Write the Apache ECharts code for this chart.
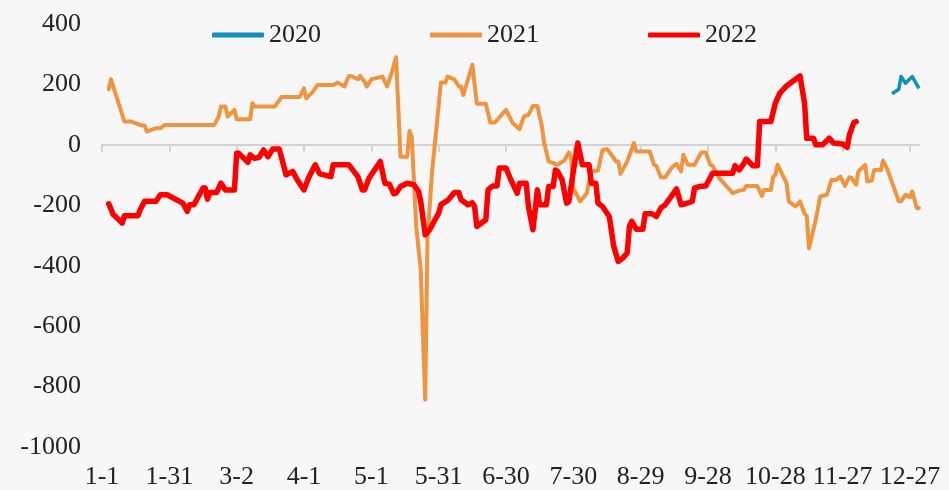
<!DOCTYPE html>
<html>
<head>
<meta charset="utf-8">
<script src="https://cdn.jsdelivr.net/npm/echarts@6/dist/echarts.min.js"></script>
<style>
  html, body { margin: 0; padding: 0; background: #f7f7f7; }
  #main { width: 949px; height: 490px; }
</style>
</head>
<body>
<div id="main"></div>
<script>
// day-of-year labels for a non-leap year, 1-1 .. 12-31
var monthDays = [31, 28, 31, 30, 31, 30, 31, 31, 30, 31, 30, 31];
var days = [];
monthDays.forEach(function (n, m) {
  for (var d = 1; d <= n; d++) days.push((m + 1) + "-" + d);
});

var yTicks = { min: -1000, max: 400, step: 200 };

// [day index, value]
var s2020 = [[352, 169], [355, 184], [356, 226], [358, 204], [361, 226], [364, 187]];

var s2021 = [
  [3, 184], [4, 217], [10, 77], [13, 77], [17, 66], [19, 63], [20, 44], [24, 55], [26, 55], [28, 66],
  [50, 66], [52, 94], [53, 127], [55, 127], [56, 94], [59, 116], [60, 85], [66, 85], [67, 138], [68, 127],
  [77, 127], [80, 158], [88, 158], [90, 187], [91, 154], [94, 176], [96, 198], [103, 198], [105, 206], [108, 193],
  [110, 228], [111, 228], [114, 217], [115, 228], [117, 209], [118, 193], [120, 217], [125, 226], [127, 193], [129, 237],
  [131, 290], [133, -39], [136, -39], [137, 47], [138, 27], [140, -270], [142, -413], [144, -843], [145, -314], [147, -94],
  [151, 206], [153, 206], [154, 226], [157, 217], [159, 193], [160, 193], [161, 165], [165, 265], [167, 136], [171, 136],
  [173, 74], [175, 74], [180, 116], [183, 72], [186, 52], [188, 94], [190, 99], [192, 129], [194, 129], [196, 60],
  [197, 6], [199, -55], [203, -66], [206, -52], [208, -25], [209, -39], [210, -143], [213, -187], [216, -160], [218, -88],
  [221, -85], [223, -17], [225, -14], [227, -33], [229, -55], [230, -55], [231, -96], [234, -55], [237, 6], [238, -22],
  [244, -22], [246, -66], [247, -70], [249, -107], [251, -107], [254, -74], [256, -63], [258, -88], [259, -33], [261, -66],
  [264, -66], [267, -25], [269, -25], [271, -66], [272, -69], [275, -110], [281, -160], [284, -151], [286, -149], [287, -136],
  [292, -136], [294, -169], [295, -149], [298, -149], [299, -105], [300, -100], [301, -66], [305, -127], [306, -187], [309, -204],
  [311, -187], [313, -228], [314, -235], [315, -342], [318, -248], [320, -171], [323, -165], [325, -116], [327, -116], [329, -105],
  [331, -136], [333, -107], [334, -110], [336, -132], [337, -88], [340, -66], [341, -121], [343, -118], [344, -83], [347, -83],
  [348, -52], [350, -83], [355, -187], [356, -187], [358, -165], [360, -173], [361, -154], [363, -209], [364, -209]
];

var s2022 = [
  [3, -195], [4, -212], [5, -231], [6, -237], [9, -259], [10, -235], [16, -235], [17, -215], [19, -187], [24, -187],
  [26, -165], [29, -165], [36, -193], [38, -220], [39, -198], [41, -198], [45, -143], [46, -143], [47, -180], [48, -158],
  [51, -158], [53, -127], [55, -149], [59, -149], [60, -28], [61, -28], [65, -58], [66, -33], [68, -45], [70, -41],
  [72, -17], [74, -39], [76, -14], [79, -14], [82, -99], [85, -88], [87, -116], [90, -149], [92, -110], [95, -66],
  [97, -96], [102, -105], [103, -66], [110, -66], [114, -105], [116, -149], [117, -149], [119, -110], [124, -55], [126, -127],
  [128, -130], [130, -162], [131, -160], [133, -138], [136, -127], [139, -132], [141, -154], [142, -187], [144, -298], [146, -281],
  [148, -253], [150, -226], [151, -198], [154, -184], [157, -158], [159, -158], [160, -182], [163, -198], [165, -192], [166, -204],
  [167, -270], [171, -248], [172, -149], [174, -136], [176, -136], [177, -77], [180, -77], [182, -113], [185, -160], [186, -127],
  [189, -127], [190, -204], [192, -281], [194, -149], [195, -198], [198, -198], [199, -138], [201, -138], [202, -83], [203, -88],
  [205, -116], [207, -193], [208, -188], [210, -88], [212, 6], [214, -66], [217, -66], [218, -127], [220, -127], [221, -193],
  [223, -204], [226, -237], [228, -336], [230, -386], [232, -375], [234, -358], [235, -270], [236, -253], [238, -279], [241, -279],
  [242, -228], [245, -228], [247, -237], [249, -209], [251, -198], [256, -146], [258, -198], [260, -195], [263, -187], [264, -143],
  [266, -138], [269, -136], [272, -94], [281, -94], [282, -69], [284, -83], [286, -61], [287, -47], [290, -69], [292, -69],
  [293, 77], [298, 77], [300, 138], [302, 171], [305, 195], [309, 217], [311, 228], [313, 138], [314, 22], [317, 22],
  [318, 0], [321, 0], [324, 22], [326, 6], [330, 3], [332, -8], [333, 33], [335, 74], [336, 77]
];

function toPoints(arr) {
  return arr.map(function (p) { return [days[p[0]], p[1]]; });
}

var font = "Liberation Serif";
var chart = echarts.init(document.getElementById("main"));

chart.setOption({
  backgroundColor: "#f7f7f7",
  animation: false,
  textStyle: { fontFamily: font },
  legend: {
    left: 207,
    top: 17,
    itemGap: 109,
    itemWidth: 52,
    itemHeight: 5,
    icon: "roundRect",
    textStyle: { fontFamily: font, fontSize: 26, color: "#222" },
    data: ["2020", "2021", "2022"]
  },
  grid: { left: 102, right: 30, top: 24, bottom: 42 },
  xAxis: [
    {
      type: "category",
      data: days,
      boundaryGap: false,
      position: "bottom",
      axisLine: { show: false, onZero: false },
      axisTick: { show: false },
      axisLabel: { interval: 29, margin: 17, fontFamily: font, fontSize: 26, color: "#222" }
    },
    {
      type: "category",
      data: days,
      boundaryGap: false,
      position: "bottom",
      axisLine: { show: true, onZero: true, lineStyle: { color: "#d2d2d2", width: 2 } },
      axisTick: { show: true, interval: 29, length: 7, lineStyle: { color: "#d2d2d2", width: 2 } },
      axisLabel: { show: false }
    }
  ],
  yAxis: {
    type: "value",
    min: yTicks.min,
    max: yTicks.max,
    interval: yTicks.step,
    splitLine: { show: false },
    axisLine: { show: false },
    axisTick: { show: false },
    axisLabel: {
      margin: 21,
      fontFamily: font,
      fontSize: 26,
      color: "#222",
      formatter: function (v) { return String(v); }
    }
  },
  series: [
    {
      name: "2020",
      type: "line",
      symbol: "none",
      data: toPoints(s2020),
      lineStyle: { color: "#1190b8", width: 3.5, join: "round" },
      itemStyle: { color: "#1190b8" }
    },
    {
      name: "2021",
      type: "line",
      symbol: "none",
      data: toPoints(s2021),
      lineStyle: { color: "#ef9440", width: 4, join: "round", cap: "round" },
      itemStyle: { color: "#ef9440" }
    },
    {
      name: "2022",
      type: "line",
      symbol: "none",
      data: toPoints(s2022),
      lineStyle: { color: "#ff0000", width: 5.5, join: "round", cap: "round" },
      itemStyle: { color: "#ff0000" }
    }
  ]
});
</script>
</body>
</html>
